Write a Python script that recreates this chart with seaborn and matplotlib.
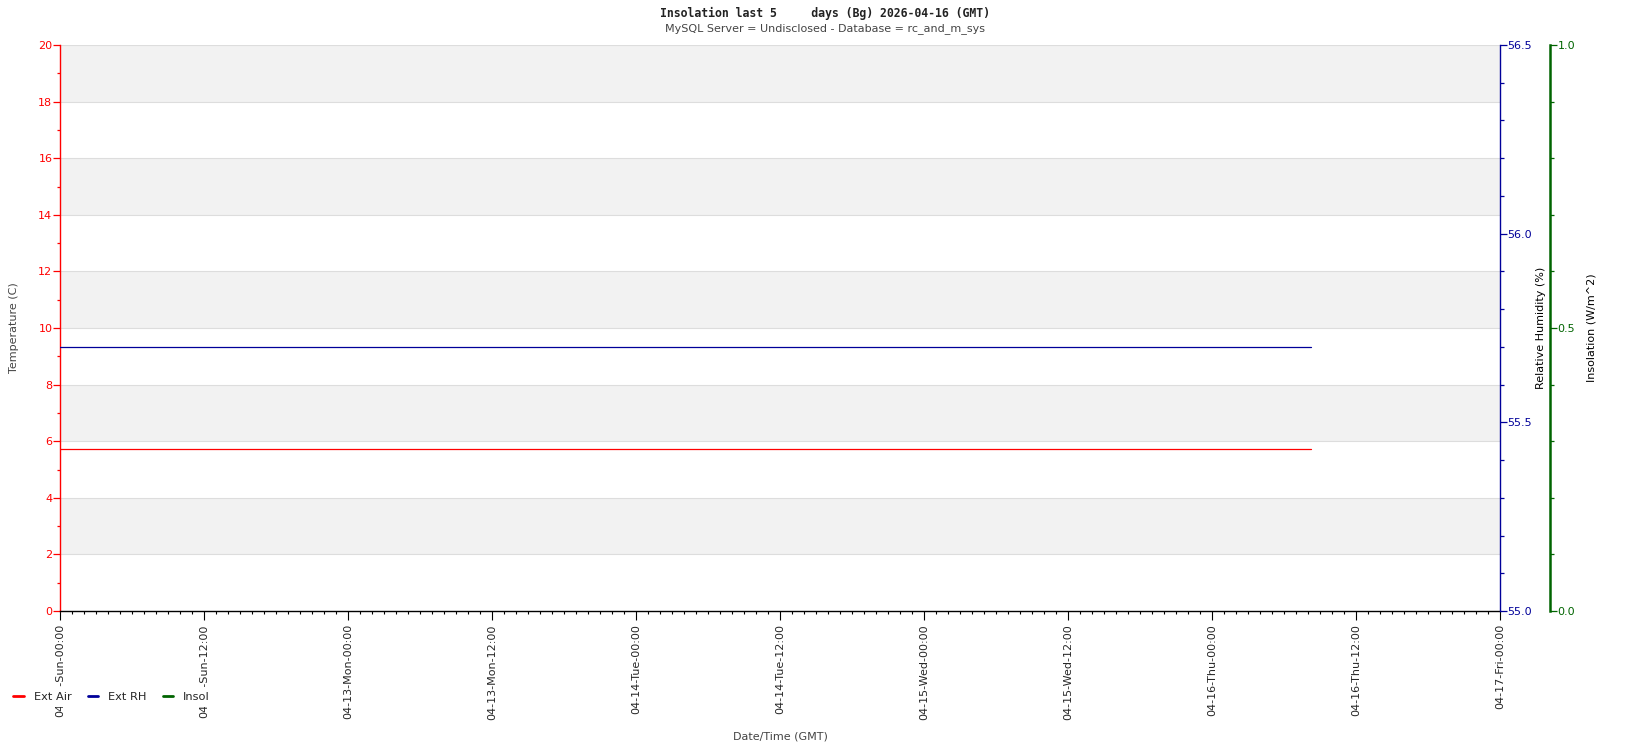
import matplotlib
matplotlib.use("Agg")
import matplotlib.pyplot as plt
import matplotlib.dates as mdates
from matplotlib.lines import Line2D
from matplotlib.ticker import MultipleLocator
import seaborn as sns
import pandas as pd

sns.set_theme(style="white")
plt.rcParams['font.family'] = ['DejaVu Sans']

# ---------------- data ----------------
title_text = "Insolation last 5     days (Bg) 2026-04-16 (GMT)"
subtitle_text = "MySQL Server = Undisclosed - Database = rc_and_m_sys"
series_names = ["Ext Air", "Ext RH", "Insol"]
air_times = ["2026-04-12 00:00", "2026-04-16 08:15"]
air_values = [5.71, 5.71]
rh_times = ["2026-04-12 00:00", "2026-04-16 08:15"]
rh_values = [55.70, 55.70]
insol_times = []
insol_values = []
x_start = "2026-04-12 00:00"
x_end = "2026-04-17 00:00"
temp_range = [0, 20]
rh_range = [55.0, 56.5]
insol_range = [0.0, 1.0]

RED = "#ff0000"
BLUE = "#000099"
GREEN = "#006400"
GRAY_TXT = "#444444"

air_df = pd.DataFrame({"t": pd.to_datetime(air_times), "v": air_values})
rh_df = pd.DataFrame({"t": pd.to_datetime(rh_times), "v": rh_values})
insol_df = pd.DataFrame({"t": pd.to_datetime(insol_times), "v": pd.Series(insol_values, dtype=float)})

W, H = 1650, 750
fig = plt.figure(figsize=(W / 100, H / 100), dpi=100)
L, R, T, B = 60, 1500, 45, 611
ax = fig.add_axes([L / W, 1 - B / H, (R - L) / W, (B - T) / H])
ax.set_facecolor("white")

# background bands + grid
ax.set_ylim(*temp_range)
ymaj = list(range(temp_range[0], temp_range[1] + 1, 2))
for i in range(len(ymaj) - 1):
    if i % 2 == 1:
        ax.axhspan(ymaj[i], ymaj[i + 1], color="#f2f2f2", zorder=0, lw=0)
for y in ymaj[1:]:
    ax.axhline(y, color="#dddddd", lw=0.8, zorder=0.5)

sns.lineplot(data=air_df, x="t", y="v", ax=ax, color=RED, lw=0.9, zorder=3)
ax.set_xlim(pd.Timestamp(x_start), pd.Timestamp(x_end))

ax2 = ax.twinx()
sns.lineplot(data=rh_df, x="t", y="v", ax=ax2, color=BLUE, lw=0.9, zorder=3)
ax2.set_ylim(*rh_range)

ax3 = ax.twinx()
if len(insol_df):
    sns.lineplot(data=insol_df, x="t", y="v", ax=ax3, color=GREEN, lw=0.9)
ax3.set_ylim(*insol_range)
ax3.spines["right"].set_position(("axes", 1 + 50 / (R - L)))
ax.set_xlim(pd.Timestamp(x_start), pd.Timestamp(x_end))

# spines
for a in (ax, ax2, ax3):
    for s in a.spines.values():
        s.set_visible(False)
ax.spines["left"].set_visible(True)
ax.spines["left"].set_color(RED)
ax.spines["left"].set_linewidth(1.0)
ax.spines["bottom"].set_visible(True)
ax.spines["bottom"].set_color("black")
ax.spines["bottom"].set_linewidth(1.0)
ax2.spines["right"].set_visible(True)
ax2.spines["right"].set_color(BLUE)
ax2.spines["right"].set_linewidth(1.0)
ax3.spines["right"].set_visible(True)
ax3.spines["right"].set_color(GREEN)
ax3.spines["right"].set_linewidth(1.8)

# x axis
ax.xaxis.set_major_locator(mdates.HourLocator(byhour=[0, 12]))
ax.xaxis.set_minor_locator(mdates.HourLocator())
ax.xaxis.set_major_formatter(mdates.DateFormatter("%m-%d-%a-%H:%M"))
ax.tick_params(axis="x", which="major", direction="out", length=6.5, width=0.8,
               color="black", labelsize=8, labelrotation=90, pad=3, bottom=True)
ax.tick_params(axis="x", which="minor", direction="out", length=2.2, width=0.8,
               color="black", bottom=True)
ax.set_xlabel("Date/Time (GMT)", fontsize=8, color=GRAY_TXT, labelpad=8)

# left axis
ax.yaxis.set_major_locator(MultipleLocator(2))
ax.yaxis.set_minor_locator(MultipleLocator(1))
ax.tick_params(axis="y", which="major", direction="out", length=5, width=0.9,
               color=RED, labelcolor=RED, labelsize=8, pad=0.5, left=True)
ax.tick_params(axis="y", which="minor", direction="out", length=2, width=0.9,
               color=RED, left=True)
ax.set_ylabel("Temperature (C)", fontsize=8, color=GRAY_TXT, labelpad=14)

# RH axis
ax2.yaxis.set_major_locator(MultipleLocator(0.5))
ax2.yaxis.set_minor_locator(MultipleLocator(0.1))
ax2.yaxis.set_major_formatter(matplotlib.ticker.FormatStrFormatter("%.1f"))
ax2.tick_params(axis="y", which="major", direction="out", length=5, width=0.9,
                color=BLUE, labelcolor=BLUE, labelsize=8, pad=0.5, right=True)
ax2.tick_params(axis="y", which="minor", direction="out", length=3, width=0.9,
                color=BLUE, right=True)
ax2.set_ylabel("Relative Humidity (%)", fontsize=8, color="black", labelpad=3)
ax2.set_xlabel("")

# Insol axis
ax3.yaxis.set_major_locator(MultipleLocator(0.5))
ax3.yaxis.set_minor_locator(MultipleLocator(0.1))
ax3.yaxis.set_major_formatter(matplotlib.ticker.FormatStrFormatter("%.1f"))
ax3.tick_params(axis="y", which="major", direction="out", length=5, width=0.9,
                color=GREEN, labelcolor=GREEN, labelsize=8, pad=0.5, right=True)
ax3.tick_params(axis="y", which="minor", direction="out", length=3, width=0.9,
                color=GREEN, right=True)
ax3.set_ylabel("Insolation (W/m^2)", fontsize=8, color="black", labelpad=8)
ax3.set_xlabel("")

for a in (ax, ax2, ax3):
    a.grid(False)

# titles
fig.text(0.5, 1 - 13 / H, title_text, ha="center", va="center", fontsize=8.3,
         family="DejaVu Sans Mono", weight="bold", color="#222222")
fig.text(0.5, 1 - 29 / H, subtitle_text, ha="center", va="center", fontsize=8,
         color=GRAY_TXT)

# legend
handles = [Line2D([], [], color=c, lw=2) for c in (RED, BLUE, GREEN)]
leg = fig.legend(handles, series_names, loc="center left",
                 bbox_to_anchor=(3 / W, 1 - 697 / H), ncol=3, fontsize=8.2,
                 frameon=True, facecolor="white", edgecolor="none",
                 handlelength=0.9, handletextpad=0.9, columnspacing=1.4,
                 borderpad=0.42, framealpha=1.0, fancybox=False)
leg.set_zorder(10)

fig.savefig("out.png", dpi=100, facecolor="white")
